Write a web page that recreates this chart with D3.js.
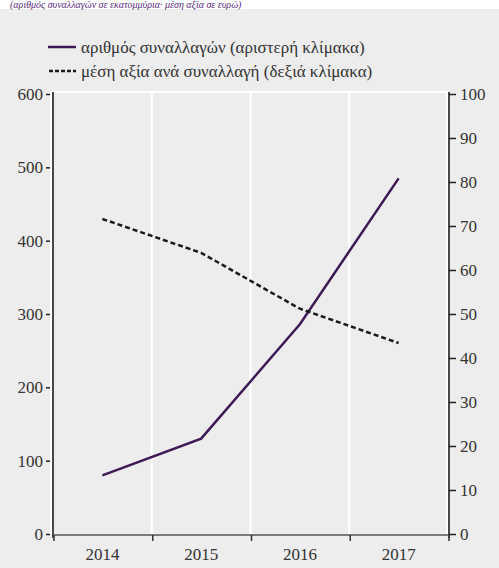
<!DOCTYPE html>
<html><head><meta charset="utf-8">
<script src="https://cdn.jsdelivr.net/npm/d3@7"></script>
<style>
body{margin:0}
svg{display:block}
svg text, text, .tick text{font-family:"Liberation Serif","Times New Roman",Times,serif !important;}
</style>
</head><body>
<script>
const categories = ["2014","2015","2016","2017"];
const transactions = [80, 130, 286, 485];
const avgValue = [71.6, 63.9, 51.2, 43.4];
const leftTicks = [0,100,200,300,400,500,600];
const rightTicks = [0,10,20,30,40,50,60,70,80,90,100];
const legendLabels = ["αριθμός συναλλαγών (αριστερή κλίμακα)","μέση αξία ανά συναλλαγή (δεξιά κλίμακα)"];
const topNote = "(αριθμός συναλλαγών σε εκατομμύρια· μέση αξία σε ευρώ)";

const W=499,H=568;
const svg=d3.select("body").append("svg").attr("width",W).attr("height",H);
svg.append("rect").attr("x",0).attr("y",9).attr("width",W).attr("height",H-9).attr("fill","#ededed");
svg.append("text").attr("x",10).attr("y",8).style("font-style","italic")
  .attr("font-size",10).attr("fill","#5b2d82").text(topNote);

const L=53,R=448,T=94,B=534;
const x=d3.scaleBand().domain(categories).range([L,R]);
const yL=d3.scaleLinear().domain([0,600]).range([B,T]);
const yR=d3.scaleLinear().domain([0,100]).range([B,T]);

const g=svg.append("g");
g.append("line").attr("x1",L-2).attr("x2",R).attr("y1",T-2).attr("y2",T-2).attr("stroke","#fff").attr("stroke-width",2);
g.append("line").attr("x1",L-2).attr("x2",L-2).attr("y1",T-2).attr("y2",B).attr("stroke","#fff").attr("stroke-width",2);
g.append("line").attr("x1",R-1).attr("x2",R-1).attr("y1",T-2).attr("y2",B).attr("stroke","#fff").attr("stroke-width",2);
categories.slice(1).forEach(c=>{
  g.append("line").attr("x1",x(c)).attr("x2",x(c)).attr("y1",T-2).attr("y2",B).attr("stroke","#fff").attr("stroke-width",2);
});

function styleAxis(a){
  a.attr("font-family",null).attr("font-size",null);
  a.selectAll("text").attr("font-size",17).attr("fill","#333");
}

const la=svg.append("g").attr("transform",`translate(${L},0)`).call(d3.axisLeft(yL).tickValues(leftTicks).tickSize(5).tickPadding(5));
la.select(".domain").remove();
la.append("line").attr("x1",0).attr("x2",0).attr("y1",T-2).attr("y2",B+4).attr("stroke","#111").attr("stroke-width",1.5);
la.selectAll(".tick line").attr("stroke","#222").attr("stroke-width",1.5).attr("x1",-3).attr("x2",-7);
la.selectAll(".tick text").attr("x",-10);
styleAxis(la);

const ra=svg.append("g").attr("transform",`translate(${R+1},0)`).call(d3.axisRight(yR).tickValues(rightTicks).tickSize(7).tickPadding(4));
ra.select(".domain").remove();
ra.append("line").attr("x1",0).attr("x2",0).attr("y1",T-2).attr("y2",B+4).attr("stroke","#111").attr("stroke-width",1.5);
ra.selectAll(".tick line").attr("stroke","#222").attr("stroke-width",1.5);
styleAxis(ra);

const ba=svg.append("g").attr("transform",`translate(0,${B+1})`).call(d3.axisBottom(x).tickSize(0).tickPadding(13));
ba.select(".domain").remove();
ba.append("line").attr("x1",L).attr("x2",R).attr("y1",0).attr("y2",0).attr("stroke","#555").attr("stroke-width",1.5);
[...categories.map(c=>x(c)),R].forEach(px=>{
  ba.append("line").attr("x1",px+1).attr("x2",px+1).attr("y1",0).attr("y2",6).attr("stroke","#333").attr("stroke-width",1.5);
});
styleAxis(ba);

const cx=c=>x(c)+x.bandwidth()/2;
svg.append("path").datum(transactions).attr("fill","none").attr("stroke","#3d1a55").attr("stroke-width",2.5)
  .attr("d",d3.line().x((d,i)=>cx(categories[i])).y(d=>yL(d)));
svg.append("path").datum(avgValue).attr("fill","none").attr("stroke","#1a1a1a").attr("stroke-width",2.5).attr("stroke-dasharray","5,3")
  .attr("d",d3.line().x((d,i)=>cx(categories[i])).y(d=>yR(d)));

const lg=svg.append("g");
lg.append("line").attr("x1",48).attr("x2",76).attr("y1",47).attr("y2",47).attr("stroke","#3d1a55").attr("stroke-width",2.5);
lg.append("line").attr("x1",49).attr("x2",76).attr("y1",71).attr("y2",71).attr("stroke","#1a1a1a").attr("stroke-width",2.5).attr("stroke-dasharray","4,2");
legendLabels.forEach((t,i)=>{
  lg.append("text").attr("x",81).attr("y",53+i*24).attr("font-size",17).attr("fill","#333").text(t);
});
</script>
</body></html>
